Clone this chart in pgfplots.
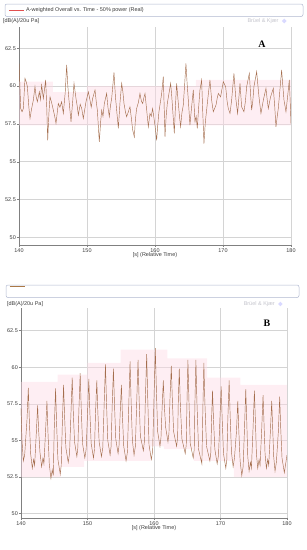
\documentclass[border=0pt]{standalone}
\usepackage{fontspec}
\setmainfont{Liberation Sans}
\newfontfamily\serifbf{Liberation Serif}
\usepackage{pgfplots}
\usetikzlibrary{shapes.geometric}
\pgfplotsset{compat=1.18}
\definecolor{trace}{RGB}{165,110,78}
\definecolor{legred}{RGB}{226,80,80}
\definecolor{legbrown}{RGB}{170,120,70}
\definecolor{env}{RGB}{252,218,228}
\definecolor{gridc}{RGB}{212,212,212}
\definecolor{boxc}{RGB}{176,184,208}
\definecolor{bk}{RGB}{196,196,204}
\definecolor{tickc}{RGB}{60,60,60}
\newcommand{\sm}{\fontsize{5.5}{6.5}\selectfont}
\pgfplotsset{
  bkstyle/.style={
    scale only axis, xmin=140, xmax=180,
    axis lines=left, axis line style={-, draw=gray, line width=0.5bp},
    xtick={140,150,160,170,180}, xticklabels={140,150,160,170,180},
    ytick={50,52.5,55,57.5,60,62.5}, yticklabels={50,52.5,55,57.5,60,62.5},
    grid=major, major grid style={gridc, line width=0.5bp},
    tick align=outside, major tick length=2bp,
    tick style={gray, line width=0.4bp},
    ticklabel style={font=\sm, text=tickc, inner sep=1bp},
    /pgf/number format/assume math mode=true,
    xlabel={[s] (Relative Time)}, xlabel style={font=\sm, text=tickc, inner sep=1bp, yshift=2bp},
    legend image code/.code={\draw[##1] (0bp,0bp) -- (15bp,0bp);},
    legend style={draw=none, fill=none, inner sep=0pt, font=\sm, text=tickc, anchor=west,
      nodes={inner sep=1.5bp}},
    legend cell align=left,
  }
}
\begin{document}
\begin{tikzpicture}
\useasboundingbox (0bp,0bp) rectangle (307bp,-550bp);
% ---------------- Panel A ----------------
\begin{axis}[bkstyle, at={(19bp,-245bp)}, anchor=south west,
  width=272bp, height=218bp, ymin=49.5, ymax=63.9,
  legend style={at={(axis description cs:-0.037,1.078)}},
  extra description/.code={
    \node[anchor=west, font=\sm, text=tickc, inner sep=0pt] at (axis description cs:-0.059,1.0275) {[dB(A)/20u Pa]};
    \node[anchor=east, font=\sm, text=bk, inner sep=0pt] at (axis description cs:0.955,1.0275) {Brüel \& Kjær};
    \node[diamond, fill=blue!15, inner sep=1.2bp] at (axis description cs:0.975,1.0275) {};
    \node[font=\fontsize{10}{12}\selectfont\serifbf\bfseries] at (axis description cs:0.893,0.922) {A};
  }]
\addplot[fill=env, fill opacity=0.45, draw=none, forget plot] coordinates {
 (140,57.4) (140,60.3) (145,60.3) (145,59.6) (150,59.6) (150,60.0) (166,60.0) (166,60.4) (180,60.4) (180,57.4)} -- cycle;
\addplot[trace, line width=0.45bp, forget plot] coordinates {
(140.00,61.50) (140.12,60.2) (140.25,58.52) (140.45,58.30) (140.64,58.52) (140.88,60.51) (141.05,60.3) (141.23,59.96) (141.45,58.6) (141.62,57.86)
(141.85,58.5) (142.11,59.07) (142.35,59.96) (142.52,59.3) (142.70,58.96) (142.99,59.62) (143.15,59.1) (143.33,60.07) (143.58,59.18) (143.92,60.40)
(144.08,58.6) (144.22,56.42) (144.40,58.2) (144.56,59.29) (144.80,58.9) (145.05,58.41) (145.25,58.0) (145.44,57.53) (145.78,58.85) (146.02,58.6)
(146.27,58.96) (146.52,58.19) (146.80,59.6) (147.01,61.39) (147.18,60.0) (147.35,59.07) (147.65,57.64) (147.88,58.9) (148.09,60.18) (148.38,59.18)
(148.55,58.7) (148.73,58.08) (149.00,58.8) (149.22,58.52) (149.46,57.86) (149.65,58.4) (149.85,58.96) (150.20,59.62) (150.44,59.07) (150.62,58.6)
(150.83,59.18) (151.18,59.74) (151.35,59.0) (151.52,58.41) (151.81,56.31) (152.00,57.6) (152.16,58.41) (152.35,58.0) (152.55,58.85) (152.89,59.51)
(153.08,58.6) (153.28,57.97) (153.45,58.7) (153.63,59.18) (153.97,60.90) (154.18,59.3) (154.36,58.41) (154.61,57.20) (154.85,58.9) (155.10,60.18)
(155.28,59.6) (155.44,58.85) (155.65,58.3) (155.83,57.97) (156.08,58.3) (156.32,58.63) (156.52,57.9) (156.72,57.09) (156.96,56.64) (157.12,57.8)
(157.30,58.52) (157.55,58.9) (157.79,59.51) (158.00,59.0) (158.19,58.85) (158.35,59.2) (158.53,59.51) (158.78,58.4) (159.02,57.31) (159.26,58.19)
(159.45,58.0) (159.65,58.52) (159.99,57.42) (160.24,56.42) (160.40,57.4) (160.58,58.30) (160.78,58.9) (160.98,59.51) (161.22,60.62) (161.35,58.6)
(161.47,56.64) (161.64,58.0) (161.81,58.85) (162.05,59.5) (162.30,60.18) (162.45,59.4) (162.59,58.52) (162.84,56.87) (163.00,58.6) (163.18,60.18)
(163.43,58.85) (163.60,58.0) (163.77,57.31) (163.95,58.2) (164.16,58.74) (164.36,60.1) (164.55,61.50) (164.72,60.2) (164.90,59.07) (165.14,57.42)
(165.38,58.6) (165.63,59.74) (165.88,57.64) (166.05,58.0) (166.22,57.20) (166.42,58.6) (166.61,59.74) (166.86,60.40) (167.02,58.3) (167.20,56.20)
(167.40,57.6) (167.59,58.41) (167.85,59.5) (168.08,60.40) (168.33,59.07) (168.57,58.30) (168.97,58.74) (169.15,59.2) (169.31,59.51) (169.65,59.29)
(170.04,60.29) (170.39,59.96) (170.60,59.0) (170.78,58.52) (171.03,58.19) (171.27,59.07) (171.61,60.84) (171.78,59.8) (171.91,59.07) (172.15,58.19)
(172.50,60.18) (172.74,58.63) (173.08,58.30) (173.30,59.0) (173.48,59.96) (173.87,60.84) (174.05,59.5) (174.21,58.41) (174.38,59.0) (174.55,59.96)
(174.95,60.95) (175.12,60.1) (175.29,59.29) (175.58,58.19) (175.75,58.6) (175.93,59.07) (176.32,59.85) (176.50,59.1) (176.66,58.52) (177.00,59.29)
(177.40,59.85) (177.60,58.7) (177.79,57.31) (177.95,57.9) (178.13,58.52) (178.40,59.9) (178.62,61.06) (178.80,60.0) (178.97,59.07) (179.26,58.30)
(179.50,59.3) (179.75,60.40) (179.88,59.0) (180.00,57.50)};
\addlegendimage{legred, line width=0.6bp}
\addlegendentry{A-weighted Overall vs. Time - 50\% power (Real)}
\end{axis}
\draw[boxc, rounded corners=2bp, line width=0.5bp] (5bp,-4bp) rectangle (303bp,-16.5bp);
% ---------------- Panel B ----------------
\begin{axis}[bkstyle, at={(21bp,-518bp)}, anchor=south west,
  width=266bp, height=210bp, ymin=49.7, ymax=64.05,
  legend style={at={(axis description cs:-0.045,1.105)}},
  extra description/.code={
    \node[anchor=west, font=\sm, text=tickc, inner sep=0pt] at (axis description cs:-0.053,1.019) {[dB(A)/20u Pa]};
    \node[anchor=east, font=\sm, text=bk, inner sep=0pt] at (axis description cs:0.955,1.019) {Brüel \& Kjær};
    \node[diamond, fill=blue!15, inner sep=1.2bp] at (axis description cs:0.975,1.019) {};
    \node[font=\fontsize{10}{12}\selectfont\serifbf\bfseries] at (axis description cs:0.925,0.929) {B};
  }]
\addplot[fill=env, fill opacity=0.45, draw=none, forget plot] coordinates {
 (140,52.5) (140,59.0) (145.5,59.0) (145.5,59.5) (150,59.5) (150,60.3) (155,60.3) (155,61.2) (162,61.2) (162,60.6) (168,60.6) (168,59.3) (173,59.3) (173,58.8) (180,58.8)
 (180,52.5) (172,52.5) (172,53.6) (166,53.6) (166,54.4) (161.5,54.4) (161.5,54.6) (159.5,54.6) (159.5,53.6) (149.5,53.6) (149.5,53.2) (146,53.2) (146,52.5)} -- cycle;
\addplot[trace, line width=0.45bp, forget plot] coordinates {
(140.0,57.2) (140.15,55.0) (140.35,53.6) (140.55,54.0) (140.9,56.4)
(141.1,58.6) (141.25,56.4) (141.45,54.1) (141.7,53.1) (141.9,53.7) (142.05,53.3) (142.3,55.5)
(142.5,57.4) (142.65,55.7) (142.85,54.2) (143.1,53.2) (143.3,53.8) (143.45,53.4) (143.7,55.7)
(143.9,57.7) (144.05,55.6) (144.25,53.4) (144.5,52.4) (144.7,53.0) (144.85,52.6) (145.0,55.8)
(145.2,58.55) (145.35,56.2) (145.55,53.7) (145.9,52.7) (146.05,53.3) (146.2,55.9)
(146.4,58.8) (146.55,56.7) (146.75,54.5) (147.1,53.5) (147.3,54.1) (147.5,56.7)
(147.7,59.3) (147.85,57.1) (148.05,54.9) (148.4,53.9) (148.55,54.5) (148.7,57.0)
(148.9,59.6) (149.05,57.3) (149.25,54.8) (149.6,53.8) (149.8,54.4) (150.0,56.8)
(150.2,59.2) (150.35,57.0) (150.55,54.8) (150.9,53.8) (151.05,54.4) (151.2,56.8)
(151.4,59.1) (151.55,57.0) (151.75,54.9) (152.1,53.9) (152.3,54.5) (152.5,57.4)
(152.7,60.2) (152.85,57.7) (153.05,55.0) (153.4,54.0) (153.55,54.6) (153.7,57.2)
(153.9,59.9) (154.05,57.6) (154.25,55.1) (154.6,54.1) (154.75,54.7) (154.9,56.7)
(155.1,58.8) (155.25,56.7) (155.45,54.6) (155.8,53.6) (156.0,54.2) (156.2,57.3)
(156.4,60.4) (156.55,57.8) (156.75,55.0) (157.0,54.0) (157.2,54.6) (157.4,57.6)
(157.6,60.5) (157.75,58.0) (157.95,55.3) (158.4,54.3) (158.55,54.9) (158.7,57.8)
(158.9,60.9) (159.05,58.0) (159.25,54.7) (159.6,53.7) (159.8,54.3) (160.0,57.9)
(160.2,61.3) (160.35,58.6) (160.55,55.6) (160.9,54.6) (161.05,55.2) (161.2,57.0)
(161.4,59.1) (161.55,57.4) (161.75,55.9) (162.1,54.9) (162.25,55.5) (162.4,57.8)
(162.6,60.1) (162.75,57.9) (162.95,55.6) (163.4,54.6) (163.55,55.2) (163.65,57.6)
(163.8,59.9) (163.95,57.6) (164.2,55.1) (164.7,54.1) (164.85,54.7) (164.95,57.4)
(165.1,60.5) (165.25,57.8) (165.45,54.8) (165.9,53.8) (166.05,54.4) (166.15,57.5)
(166.3,60.5) (166.45,57.7) (166.7,54.4) (167.2,53.4) (167.35,57.2)
(167.5,60.3) (167.65,57.6) (167.9,54.6) (168.4,53.6) (168.55,54.2) (168.65,56.3)
(168.8,58.4) (168.95,56.4) (169.15,54.4) (169.5,53.4) (169.7,54.0) (169.9,56.3)
(170.1,58.7) (170.25,56.5) (170.45,54.1) (170.8,53.1) (170.95,53.7) (171.1,56.4)
(171.3,59.1) (171.45,56.7) (171.65,54.2) (171.9,53.2) (172.1,53.8) (172.4,55.6)
(172.6,57.7) (172.75,55.7) (172.95,53.6) (173.2,52.6) (173.4,53.2) (173.6,55.7)
(173.8,58.5) (173.95,56.3) (174.1,53.9) (174.3,52.9) (174.5,53.5) (174.65,53.1) (174.9,55.9)
(175.1,58.4) (175.25,56.3) (175.4,54.1) (175.6,53.1) (175.8,53.7) (175.95,53.3) (176.2,55.8)
(176.4,58.1) (176.55,56.1) (176.7,54.1) (176.9,53.1) (177.1,53.7) (177.25,53.3) (177.5,55.6)
(177.7,57.7) (177.85,55.8) (178.0,53.9) (178.2,52.9) (178.4,53.5) (178.7,55.6)
(178.9,58.0) (179.05,55.9) (179.25,53.8) (179.6,52.8) (179.8,53.4) (180.0,54.0)};
\addlegendimage{legbrown, line width=0.6bp}
\addlegendentry{}
\end{axis}
\draw[boxc, rounded corners=2bp, line width=0.5bp] (6bp,-285bp) rectangle (299bp,-297.5bp);
\end{tikzpicture}
\end{document}
